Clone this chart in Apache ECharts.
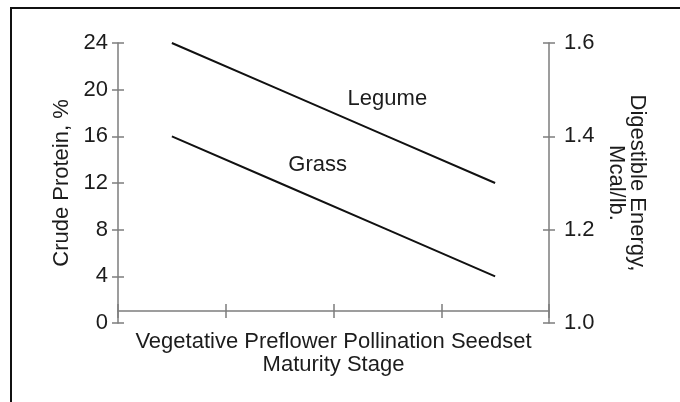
<!DOCTYPE html>
<html>
<head>
<meta charset="utf-8">
<script src="https://cdn.jsdelivr.net/npm/echarts@6/dist/echarts.min.js"></script>
<style>
	html, body { margin: 0; padding: 0; background: #fff; overflow: hidden; }
	#wrap { position: relative; width: 680px; height: 402px; overflow: hidden; }
	#frame { position: absolute; left: 10px; top: 7px; width: 720px; height: 440px; border: 2px solid #111; box-sizing: border-box; }
	#chart { position: absolute; left: 0; top: 0; width: 680px; height: 402px; }
</style>
</head>
<body>
<div id="wrap">
	<div id="frame"></div>
	<div id="chart"></div>
</div>
<script>
	// maturity stages along the bottom
	var stages = ['Vegetative', 'Preflower', 'Pollination', 'Seedset']
	// crude protein, %
	var legume = [24, 20, 16, 12]
	var grass = [16, 12, 8, 4]
	// tick labels of the two value axes
	var proteinTicks = [0, 4, 8, 12, 16, 20, 24]
	var energyTicks = [1.0, 1.2, 1.4, 1.6]

	var font = "'Liberation Sans', Arial, Helvetica, sans-serif"
	var ink = '#1c1c1c'
	var axisGray = '#7d7d7d'

	var chart = echarts.init(document.getElementById('chart'))

	function withLabel(values, idx, text, dist, dx) {
		return values.map(function (v, i) {
			if (i !== idx) return v
			return {
				value: v,
				label: {
					show: true,
					position: 'top',
					distance: dist,
					offset: [dx, 0],
					formatter: text,
					color: ink,
					fontFamily: font,
					fontSize: 22
				}
			}
		})
	}

	function yAxisBase(ticks, side) {
		return {
			type: 'value',
			position: side,
			min: ticks[0],
			max: ticks[ticks.length - 1],
			interval: ticks[1] - ticks[0],
			splitLine: { show: false },
			axisLine: { show: true, lineStyle: { color: axisGray, width: 1.5 } },
			axisTick: { show: true, length: 6, lineStyle: { color: axisGray, width: 1.5 } }
		}
	}

	var yLeft = yAxisBase(proteinTicks, 'left')
	yLeft.axisLabel = { color: ink, fontFamily: font, fontSize: 22, margin: 10 }
	yLeft.name = 'Crude Protein, %'
	yLeft.nameLocation = 'middle'
	yLeft.nameRotate = 90
	yLeft.nameGap = 44
	yLeft.nameTextStyle = { color: ink, fontFamily: font, fontSize: 22 }

	var yRight = yAxisBase(energyTicks, 'right')
	yRight.axisLabel = {
		color: ink, fontFamily: font, fontSize: 22, margin: 15,
		formatter: function (v) { return v.toFixed(1) }
	}
	yRight.name = 'Digestible Energy,\nMcal/lb.'
	yRight.nameLocation = 'middle'
	yRight.nameRotate = -90
	yRight.nameGap = 46
	yRight.nameTextStyle = { color: ink, fontFamily: font, fontSize: 22, lineHeight: 21 }

	// second copies only carry the inner half of the crossing ticks
	var yLeftIn = yAxisBase(proteinTicks, 'left')
	yLeftIn.axisLine.show = false
	yLeftIn.axisTick.inside = true
	yLeftIn.axisLabel = { show: false }

	var yRightIn = yAxisBase(energyTicks, 'right')
	yRightIn.axisLine.show = false
	yRightIn.axisTick.inside = true
	yRightIn.axisLabel = { show: false }

	chart.setOption({
		animation: false,
		backgroundColor: 'transparent',
		grid: { left: 118, right: 131, top: 43, bottom: 79, containLabel: false },
		xAxis: [{
			type: 'category',
			data: stages,
			position: 'bottom',
			boundaryGap: true,
			offset: -12,
			axisLine: { show: true, onZero: false, lineStyle: { color: axisGray, width: 1.5 } },
			axisTick: { show: true, length: 7, lineStyle: { color: axisGray, width: 1.5 } },
			axisLabel: { show: false },
			splitLine: { show: false },
			name: stages.join(' ') + '\nMaturity Stage',
			nameLocation: 'middle',
			nameGap: 19,
			nameTextStyle: { color: ink, fontFamily: font, fontSize: 22, lineHeight: 23, verticalAlign: 'top' }
		}, {
			type: 'category',
			data: stages,
			position: 'bottom',
			boundaryGap: true,
			offset: -12,
			axisLine: { show: false, onZero: false },
			axisTick: { show: true, inside: true, length: 7, lineStyle: { color: axisGray, width: 1.5 } },
			axisLabel: { show: false },
			splitLine: { show: false }
		}],
		yAxis: [yLeft, yRight, yLeftIn, yRightIn],
		series: [{
			name: 'Legume',
			type: 'line',
			xAxisIndex: 0,
			yAxisIndex: 0,
			data: withLabel(legume, 2, 'Legume', 26, 0),
			symbol: 'circle',
			symbolSize: 0,
			showSymbol: true,
			lineStyle: { color: '#111', width: 2 },
			itemStyle: { color: '#111' }
		}, {
			name: 'Grass',
			type: 'line',
			xAxisIndex: 0,
			yAxisIndex: 0,
			data: withLabel(grass, 1, 'Grass', 7, 38),
			symbol: 'circle',
			symbolSize: 0,
			showSymbol: true,
			lineStyle: { color: '#111', width: 2 },
			itemStyle: { color: '#111' }
		}]
	})
</script>
</body>
</html>
